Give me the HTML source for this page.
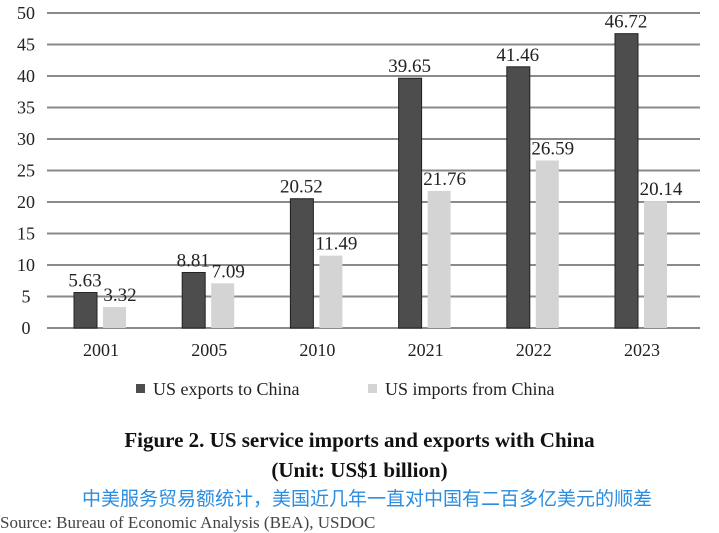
<!DOCTYPE html>
<html><head><meta charset="utf-8"><style>
body{margin:0;width:719px;height:519px;background:#fff;overflow:hidden;position:relative;font-family:"Liberation Serif",serif}
.t{position:absolute;left:0;width:719px;text-align:center;font-weight:bold;color:#111}
</style></head><body>
<svg id="c" width="719" height="420" style="position:absolute;left:0;top:0" font-family="Liberation Serif, serif"></svg>
<div class="t" style="top:428px;font-size:21px">Figure 2. US service imports and exports with China</div>
<div class="t" style="top:458px;font-size:21px">(Unit: US$1 billion)</div>
<div style="position:absolute;left:82px;top:484px;font-size:19px;color:#2a8de0;font-family:'Liberation Sans','Noto Sans CJK SC',sans-serif">中美服务贸易额统计，美国近几年一直对中国有二百多亿美元的顺差</div>
<div style="position:absolute;left:0;top:513px;font-size:17px;color:#444">Source: Bureau of Economic Analysis (BEA), USDOC</div>
<script>
const categories=["2001","2005","2010","2021","2022","2023"];
const exportsVals=[5.63,8.81,20.52,39.65,41.46,46.72];
const importsVals=[3.32,7.09,11.49,21.76,26.59,20.14];
const yTicks=[0,5,10,15,20,25,30,35,40,45,50];
const svg=document.getElementById('c');const NS="http://www.w3.org/2000/svg";
function y(v){return 328-v*6.3}
function x(i){return 101+i*108.2}
function mk(t,a,txt){const e=document.createElementNS(NS,t);for(const k in a)e.setAttribute(k,a[k]);if(txt!=null)e.textContent=txt;svg.appendChild(e);return e}
yTicks.forEach(v=>{
 const l=mk('line',{x1:47,x2:700,y1:y(v),y2:y(v),stroke:'#8a8a8a','stroke-width':2});
 
 
 const t=mk('text',{x:26,y:y(v)+6,'font-size':18,'text-anchor':'middle',fill:'#222'},v);
 
 
});
categories.forEach((c,i)=>{
 const cx=x(i);
 const b1=mk('rect',{x:cx-27,y:y(exportsVals[i]),width:23,height:y(0)-y(exportsVals[i]),fill:'#4d4d4d',stroke:'#222','stroke-width':1});
 
 
 const b2=mk('rect',{x:cx+2,y:y(importsVals[i]),width:23,height:y(0)-y(importsVals[i]),fill:'#d4d4d4'});
 
 
 const l1=mk('text',{x:cx-16,y:y(exportsVals[i])-6,'font-size':19,'text-anchor':'middle',fill:'#222'},exportsVals[i].toFixed(2));
 
 
 const l2=mk('text',{x:cx+19,y:y(importsVals[i])-6,'font-size':19,'text-anchor':'middle',fill:'#222'},importsVals[i].toFixed(2));
 
 
 const xt=mk('text',{x:cx,y:356,'font-size':18,'text-anchor':'middle',fill:'#222'},c);
 
 
});
const g1=mk('rect',{x:136,y:384,width:9,height:9,fill:'#4d4d4d'});


const g1t=mk('text',{x:153,y:395,'font-size':18,fill:'#222'},'US exports to China');


const g2=mk('rect',{x:368,y:384,width:9,height:9,fill:'#d4d4d4'});


const g2t=mk('text',{x:385,y:395,'font-size':18,fill:'#222'},'US imports from China');


</script>
</body></html>
